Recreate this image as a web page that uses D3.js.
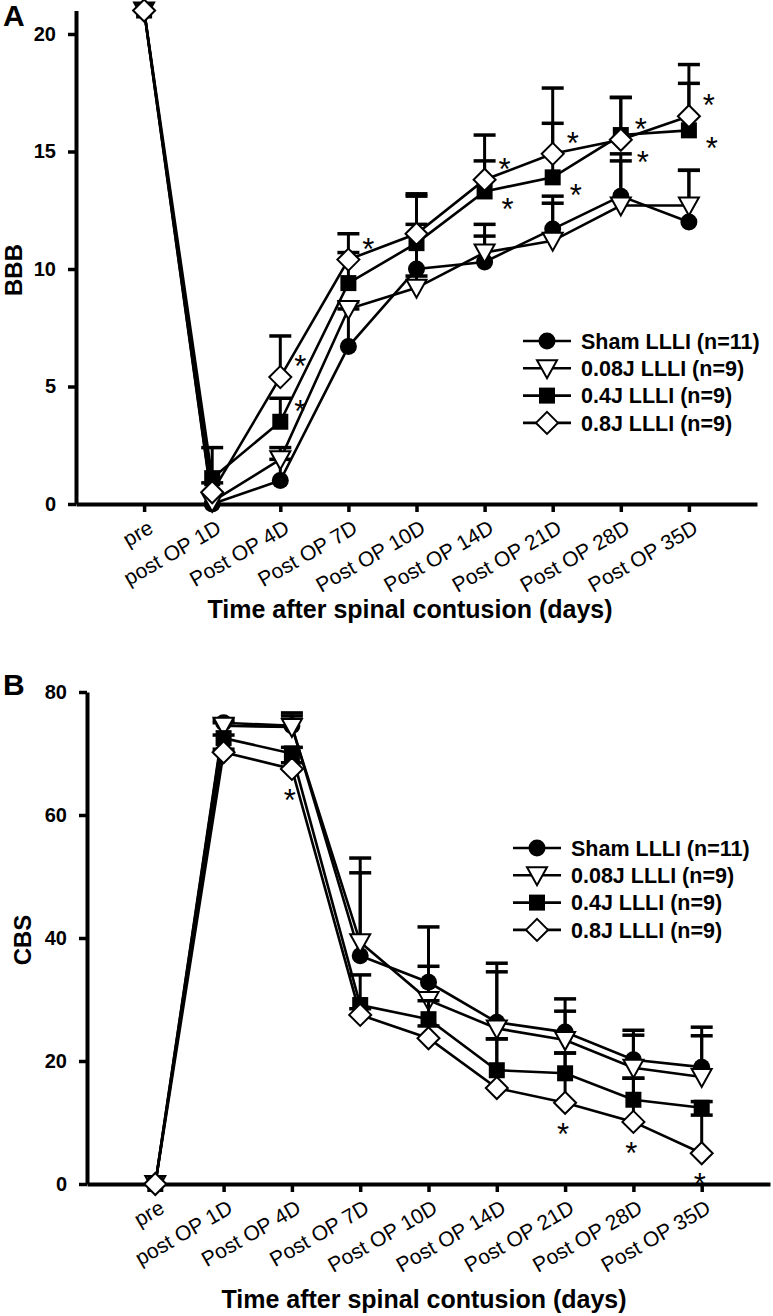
<!DOCTYPE html>
<meta charset="utf-8">
<style>
body { margin: 0; background: #fff; }
text { font-family: "Liberation Sans", Arial, sans-serif; fill: #000; }
</style>
<body>
<script src="https://d3js.org/d3.v7.min.js"></script>
<script>
// categories (x axis)
var cats = ["pre", "post OP 1D", "Post OP 4D", "Post OP 7D", "Post OP 10D",
            "Post OP 14D", "Post OP 21D", "Post OP 28D", "Post OP 35D"];
var names = ["Sham LLLI (n=11)", "0.08J LLLI (n=9)", "0.4J LLLI (n=9)", "0.8J LLLI (n=9)"];

// panel A : BBB score (mean, SEM)
var bbbSham = [21, 0.0, 1.0, 6.7, 10.0, 10.3, 11.7, 13.1, 12.0];
var bbb008  = [21, 0.1, 1.9, 8.3, 9.2, 10.7, 11.2, 12.7, 12.7];
var bbb04   = [21, 1.1, 3.5, 9.4, 11.1, 13.3, 13.9, 15.7, 15.9];
var bbb08   = [21, 0.5, 5.4, 10.4, 11.5, 13.8, 14.9, 15.5, 16.5];
var bbbErrSham = [0, 0, 0.9, 1.6, 1.9, 1.6, 1.4, 1.8, 2.2];
var bbbErr008  = [0, 0, 0.5, 0.3, 0.5, 0.7, 1.6, 1.9, 1.5];
var bbbErr04   = [0, 1.3, 1.0, 1.3, 2.0, 1.3, 2.3, 1.6, 2.0];
var bbbErr08   = [0, 0.4, 1.75, 1.1, 1.7, 1.9, 2.8, 1.8, 2.2];
var bbbTicks = [0, 5, 10, 15, 20];
// significance marks: [series, category, side]
var bbbSig = [[3, 2, "up"], [2, 2, "up"], [3, 3, "up"], [3, 5, "up"], [2, 5, "down"],
              [3, 6, "up"], [2, 6, "down"], [3, 7, "up"], [2, 7, "low"], [3, 8, "up"], [2, 8, "down"]];

// panel B : CBS score (mean, SEM)
var cbsSham = [0, 75.0, 74.5, 37.1, 32.8, 26.3, 24.7, 20.2, 19.0];
var cbs008  = [0, 74.5, 74.3, 39.3, 29.9, 25.3, 23.4, 18.9, 17.4];
var cbs04   = [0, 72.5, 70.0, 29.1, 26.8, 18.5, 18.0, 13.7, 12.4];
var cbs08   = [0, 70.2, 67.5, 27.5, 23.7, 15.6, 13.2, 10.1, 5.0];
var cbsErrSham = [0, 0.5, 2.1, 13.5, 9.0, 9.6, 5.4, 4.8, 6.5];
var cbsErr008  = [0, 0.5, 1.8, 13.7, 5.5, 9.2, 4.7, 5.3, 6.7];
var cbsErr04   = [0, 0.5, 1.0, 4.9, 3.0, 5.1, 3.3, 3.5, 1.0];
var cbsErr08   = [0, 0.5, 1.0, 1.0, 2.0, 8.0, 8.1, 7.1, 6.2];
var cbsTicks = [0, 20, 40, 60, 80];
var cbsSig = [[3, 2, "below"], [3, 6, "below"], [3, 7, "below"], [3, 8, "below"]];

var width = 773, height = 1316;
var svg = d3.select("body").append("svg")
    .attr("width", width)
    .attr("height", height);

var symbols = ["circle", "triangle", "square", "diamond"];

function marker(g, type, cx, cy) {
  if (type == "circle") {
    g.append("circle").attr("cx", cx).attr("cy", cy).attr("r", 8.5).attr("fill", "#000");
  } else if (type == "square") {
    g.append("rect").attr("x", cx - 8).attr("y", cy - 8).attr("width", 16).attr("height", 16).attr("fill", "#000");
  } else if (type == "triangle") {
    g.append("path").attr("d", `M${cx - 10},${cy - 8}L${cx + 10},${cy - 8}L${cx},${cy + 10}Z`)
      .attr("fill", "#fff").attr("stroke", "#000").attr("stroke-width", 2);
  } else {
    g.append("path").attr("d", `M${cx},${cy - 11}L${cx + 11},${cy}L${cx},${cy + 11}L${cx - 11},${cy}Z`)
      .attr("fill", "#fff").attr("stroke", "#000").attr("stroke-width", 2);
  }
}

// asterisk offsets from the marker, by side
var sigOffset = { up: [20, -17], down: [23, 12], low: [22, 21], below: [-2, 25] };

function drawPanel(o) {
  var x = d3.scaleLinear().domain([-1, 9]).range([o.left, o.right]);
  var y = d3.scaleLinear().domain(o.yDomain).range([o.bottom, o.top]);
  var g = svg.append("g");

  // axes
  var xa = g.append("g").attr("transform", `translate(0,${o.bottom})`)
    .call(d3.axisBottom(x).tickValues(d3.range(cats.length))
      .tickFormat(i => cats[i]).tickSize(8).tickSizeOuter(0));
  xa.select(".domain").attr("stroke-width", 4);
  xa.selectAll(".tick line").attr("stroke-width", 3.5);
  xa.selectAll(".tick text")
    .attr("x", 0).attr("y", 0).attr("dy", 0)
    .attr("text-anchor", "end")
    .attr("transform", "translate(10,28) rotate(-30)")
    .style("font-size", "21px");

  var ya = g.append("g").attr("transform", `translate(${o.left},0)`)
    .call(d3.axisLeft(y).tickValues(o.ticks).tickSize(8).tickSizeOuter(0).tickPadding(12));
  ya.select(".domain").attr("stroke-width", 4);
  ya.selectAll(".tick line").attr("stroke-width", 3.5);
  ya.selectAll(".tick text").style("font-size", "20px").style("font-weight", "bold");

  // series
  var line = d3.line().x((d, i) => x(i)).y(d => y(d));
  o.series.forEach(function(vals, s) {
    var sg = g.append("g");
    sg.append("path").attr("d", line(vals))
      .attr("fill", "none").attr("stroke", "#000").attr("stroke-width", 2.6);
    vals.forEach(function(v, i) {
      var e = o.errs[s][i];
      if (e > 0) {
        sg.append("line").attr("x1", x(i)).attr("x2", x(i))
          .attr("y1", y(v)).attr("y2", y(v + e))
          .attr("stroke", "#000").attr("stroke-width", 3);
        sg.append("line").attr("x1", x(i) - 11).attr("x2", x(i) + 11)
          .attr("y1", y(v + e)).attr("y2", y(v + e))
          .attr("stroke", "#000").attr("stroke-width", 3.5);
      }
    });
    vals.forEach(function(v, i) { marker(sg, symbols[s], x(i), y(v)); });
  });

  // significance asterisks
  o.sig.forEach(function(a) {
    var off = sigOffset[a[2]];
    var cx = x(a[1]) + off[0], cy = y(o.series[a[0]][a[1]]) + off[1];
    g.append("text").attr("x", cx).attr("y", cy + 17)
      .attr("text-anchor", "middle").style("font-size", "31px").text("*");
  });

  // legend
  names.forEach(function(n, s) {
    var ly = o.legY + s * 27.3;
    g.append("line").attr("x1", o.legX).attr("x2", o.legX + 48)
      .attr("y1", ly).attr("y2", ly).attr("stroke", "#000").attr("stroke-width", 2.6);
    marker(g, symbols[s], o.legX + 24, ly);
    g.append("text").attr("x", o.legX + 58).attr("y", ly).attr("dy", "0.36em")
      .style("font-size", "21.5px").style("font-weight", "bold").text(n);
  });

  // titles
  g.append("text").attr("transform", `translate(${o.yTitleX},${o.yTitleY}) rotate(-90)`)
    .attr("text-anchor", "middle").style("font-size", "24px").style("font-weight", "bold")
    .text(o.yTitle);
  g.append("text").attr("x", o.xTitleX).attr("y", o.xTitleY)
    .attr("text-anchor", "middle").style("font-size", "25px").style("font-weight", "bold")
    .text("Time after spinal contusion (days)");
  g.append("text").attr("x", 3).attr("y", o.labelY)
    .style("font-size", "30px").style("font-weight", "bold").text(o.label);
}

drawPanel({
  left: 76, right: 757, bottom: 504, top: 10.5, yDomain: [0, 21], ticks: bbbTicks,
  series: [bbbSham, bbb008, bbb04, bbb08],
  errs: [bbbErrSham, bbbErr008, bbbErr04, bbbErr08],
  sig: bbbSig, legX: 523, legY: 341,
  yTitle: "BBB", yTitleX: 22, yTitleY: 270,
  xTitleX: 410, xTitleY: 618, label: "A", labelY: 26
});

drawPanel({
  left: 87, right: 770, bottom: 1184, top: 692, yDomain: [0, 80], ticks: cbsTicks,
  series: [cbsSham, cbs008, cbs04, cbs08],
  errs: [cbsErrSham, cbsErr008, cbsErr04, cbsErr08],
  sig: cbsSig, legX: 513, legY: 848,
  yTitle: "CBS", yTitleX: 31, yTitleY: 940,
  xTitleX: 424, xTitleY: 1308, label: "B", labelY: 695
});
</script>
</body>
